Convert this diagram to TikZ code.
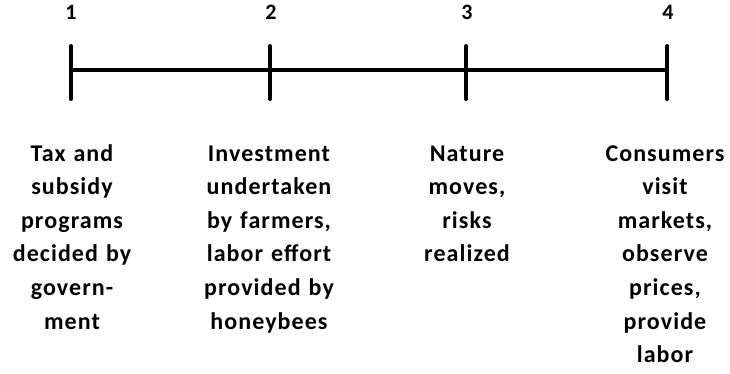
\documentclass[tikz,border=0pt]{standalone}
\usepackage{fontspec}
\setmainfont{Carlito}
\newfontfamily\descfont{Carlito}[LetterSpace=4.5,BoldFont={Carlito Bold}]
\begin{document}
\begin{tikzpicture}[x=1pt,y=-1pt,
  axis/.style={line width=4pt},
  tick/.style={line width=4pt,line cap=round},
  num/.style={font=\fontsize{22}{26}\selectfont\bfseries,anchor=base,inner sep=0pt},
  desc/.style={font=\descfont\fontsize{24}{33.6}\selectfont\bfseries,text width=160pt,align=center,anchor=base,inner sep=0pt}]
\useasboundingbox (0,0) rectangle (730,374);
\coordinate (t1) at (71,70);
\coordinate (t2) at (270,70);
\coordinate (t3) at (466,70);
\coordinate (t4) at (667,70);
\draw[axis] (t1) -- (t4);
\foreach \i in {1,...,4}{
  \draw[tick] ([yshift=24pt]t\i) -- ([yshift=-29pt]t\i);
}
\node[num] (n1) at (71,20) {1};
\node[num] (n2) at (271,20) {2};
\node[num] (n3) at (467,20) {3};
\node[num] (n4) at (668,20) {4};
\node[desc] (d1) at (72,161) {Tax and\\subsidy\\programs\\decided by\\govern-\\ment};
\node[desc] (d2) at (269,161) {Investment\\undertaken\\by farmers,\\labor effort\\provided by\\honeybees};
\node[desc] (d3) at (467,161) {Nature\\moves,\\risks\\realized};
\node[desc] (d4) at (665,161) {Consumers\\visit\\markets,\\observe\\prices,\\provide\\labor};
\end{tikzpicture}
\end{document}
